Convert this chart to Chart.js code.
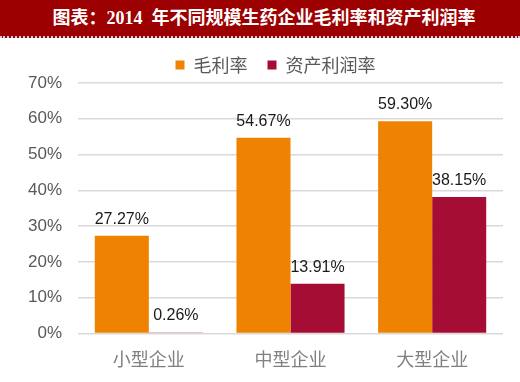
<!DOCTYPE html>
<html><head><meta charset="utf-8">
<script src="https://cdn.jsdelivr.net/npm/chart.js@4/dist/chart.umd.min.js"></script>
<style>
html,body{margin:0;padding:0;background:#fff;width:520px;height:382px;overflow:hidden}
#title{height:36px;background:#9c0000;color:#fff;font-family:"Liberation Serif","Noto Sans CJK SC",serif;font-weight:bold;font-size:18px;line-height:36px;text-align:center;border-bottom:2px dotted #c9d0e0;box-sizing:content-box;padding-left:8px}
#wrap{position:relative;width:520px;height:344px}
</style></head>
<body>
<div id="title">图表：2014&nbsp; 年不同规模生药企业毛利率和资产利润率</div>
<div id="wrap"><canvas id="c" width="520" height="344"></canvas></div>
<script>
const categories = ["小型企业","中型企业","大型企业"];
const grossMargin = [27.27, 54.67, 59.30];
const assetProfit = [0.26, 13.91, 38.15];
const seriesNames = ["毛利率","资产利润率"];
const yTicks = [0,10,20,30,40,50,60,70];

const labelPlugin = {
  id:'valLabels',
  afterLayout(chart){
    const lg = chart.legend;
    if (lg) { lg.left += 24; lg.right += 24; lg.top += 1; lg.bottom += 1; }
  },
  afterDatasetsDraw(chart){
    const ctx = chart.ctx;
    ctx.save();
    ctx.font = '16px "Liberation Sans", Arial, sans-serif';
    ctx.fillStyle = '#1a1a1a';
    ctx.textAlign = 'center';
    ctx.textBaseline = 'alphabetic';
    chart.data.datasets.forEach((ds, di) => {
      const meta = chart.getDatasetMeta(di);
      meta.data.forEach((bar, i) => {
        ctx.fillText(ds.data[i].toFixed(2) + '%', bar.x, bar.y - 12);
      });
    });
    ctx.restore();
  }
};

new Chart(document.getElementById('c'), {
  type:'bar',
  data:{
    labels: categories,
    datasets:[
      {label: seriesNames[0], data: grossMargin, backgroundColor:'#ef8200'},
      {label: seriesNames[1], data: assetProfit, backgroundColor:'#a50d35'}
    ]
  },
  options:{
    responsive:false,
    animation:false,
    layout:{padding:{left:0,right:17,top:-3,bottom:5}},
    datasets:{bar:{barPercentage:1, categoryPercentage:0.763}},
    plugins:{
      legend:{
        display:true,
        position:'top',
        labels:{
          boxWidth:9, boxHeight:9, padding:20,
          color:'#595959',
          font:{family:'"Noto Sans CJK SC", sans-serif', size:18}
        }
      },
      tooltip:{enabled:false}
    },
    scales:{
      x:{
        grid:{display:false},
        border:{display:false},
        ticks:{color:'#808080', padding:7, font:{family:'"Noto Sans CJK SC", sans-serif', size:18}}
      },
      y:{
        min:0, max:70,
        afterBuildTicks(scale){ scale.ticks = yTicks.map(v => ({value:v})); },
        afterFit(scale){ scale.width = 78; },
        grid:{color:'#d9d9d9', lineWidth:1.5, drawTicks:false},
        border:{display:false},
        ticks:{color:'#595959', padding:16, font:{family:'"Liberation Sans", Arial, sans-serif', size:17},
          callback:(v)=> v + '%'}
      }
    }
  },
  plugins:[labelPlugin]
});
</script>
</body></html>
